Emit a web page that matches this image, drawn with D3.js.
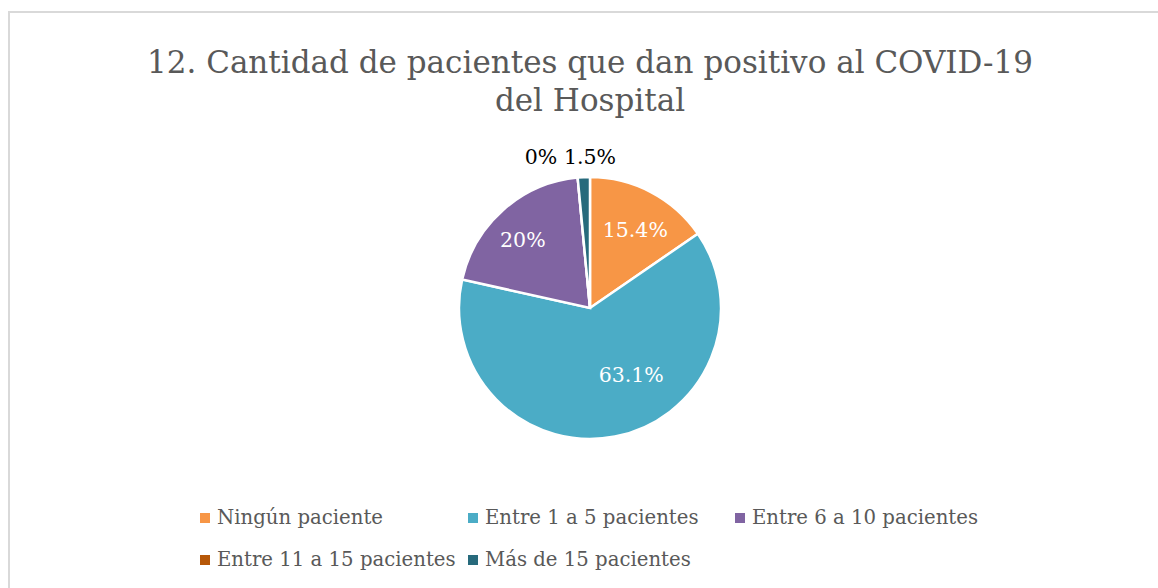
<!DOCTYPE html>
<html><head><meta charset="utf-8">
<script src="https://cdn.jsdelivr.net/npm/d3@7"></script>
<style>body{margin:0;background:#fff;} svg{display:block;}</style>
</head><body>
<svg id="c" width="1158" height="588"></svg>
<script>
const categories = ["Ningún paciente","Entre 1 a 5 pacientes","Entre 6 a 10 pacientes","Entre 11 a 15 pacientes","Más de 15 pacientes"];
const values = [15.4, 63.1, 20, 0, 1.5];
const labels = ["15.4%","63.1%","20%","0%","1.5%"];
const colors = ["#F79646","#4BACC6","#8064A2","#B65708","#276A7C"];
const titleLines = ["12. Cantidad de pacientes que dan positivo al COVID-19","del Hospital"];

const svg = d3.select("#c");
const font = "'DejaVu Serif', serif";
svg.append("rect").attr("x",9).attr("y",12).attr("width",1160).attr("height",600)
  .attr("fill","#fff").attr("stroke","#d9d9d9").attr("stroke-width",2);

const cx = 590, cy = 308, r = 131;
svg.append("g").selectAll("text").data(titleLines).join("text")
  .attr("x",cx).attr("y",(d,i)=>73+i*38).attr("text-anchor","middle")
  .attr("font-family",font).attr("font-size",31).attr("fill","#595959").text(d=>d);

const pie = d3.pie().sort(null).value(d=>d)(values);
const arc = d3.arc().innerRadius(0).outerRadius(r);
const g = svg.append("g").attr("transform",`translate(${cx},${cy})`);
g.selectAll("path").data(pie).join("path").attr("d",arc)
  .attr("fill",(d,i)=>colors[i]).attr("stroke","#fff").attr("stroke-width",2.5);

const lab = g.selectAll("text.l").data(pie).join("text").attr("class","l")
  .attr("font-family",font).attr("font-size",20.5).attr("text-anchor","middle")
  .attr("dominant-baseline","middle");
lab.each(function(d,i){
  const t = d3.select(this).text(labels[i]);
  if (values[i] >= 5) {
    let a = (d.startAngle + d.endAngle)/2;
    let rr = r*0.68;
    if (values[i] > 50) { a -= 0.35; rr = r*0.61; }
    if (i === 0) a += 0.05;
    if (i === 2) { a -= 0.07; rr = r*0.72; }
    t.attr("x",rr*Math.sin(a)).attr("y",-rr*Math.cos(a)).attr("fill","#fff");
  } else {
    const offs = {3:-49,4:0};
    t.attr("x",offs[i]).attr("y",-r-19).attr("fill","#000");
  }
});

const legendPos = [[200,518],[468,518],[735,518],[200,560],[468,560]];
const lg = svg.append("g").selectAll("g").data(categories).join("g")
  .attr("transform",(d,i)=>`translate(${legendPos[i][0]},${legendPos[i][1]})`);
lg.append("rect").attr("x",0).attr("y",-5).attr("width",10).attr("height",10).attr("fill",(d,i)=>colors[i]);
lg.append("text").attr("x",17).attr("y",0).attr("dominant-baseline","middle")
  .attr("font-family",font).attr("font-size",19.7).attr("fill","#595959").text(d=>d);
</script>
</body></html>
